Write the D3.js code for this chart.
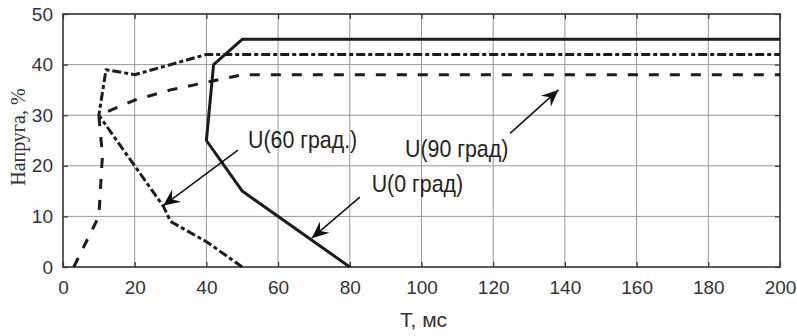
<!DOCTYPE html>
<html>
<head>
<meta charset="utf-8">
<script src="https://cdn.jsdelivr.net/npm/d3@7"></script>
<style>
  body { margin: 0; background: #fff; }
  svg { display: block; }
  .tick text { font-family: "Liberation Sans", Arial, sans-serif; font-size: 19px; fill: #333; }
</style>
</head>
<body>
<svg id="chart"></svg>
<script>
// curve data: time (ms) and load (%)
const t0 = [80, 50, 40, 42, 50, 200];
const u0 = [0, 15, 25, 40, 45, 45];

const t60 = [50, 40, 30, 28, 20, 10, 12, 20, 40, 200];
const u60 = [0, 5, 9, 12, 20, 30, 39, 38, 42, 42];

const t90 = [3, 10, 11, 10, 20, 30, 40, 50, 200];
const u90 = [0, 10, 22, 30, 33, 35, 36.5, 38, 38];

const xTicks = [0, 20, 40, 60, 80, 100, 120, 140, 160, 180, 200];
const yTicks = [0, 10, 20, 30, 40, 50];

// annotation labels + arrows (data units)
const labels = ["U(60 град.)", "U(90 град)", "U(0 град)"];
const labelX = [51.6, 95.4, 86.1];
const labelY = [23.5, 21.7, 14.9];
const arrowFrom = [[48.8, 23.1], [124.7, 26.4], [82.8, 13.8]];
const arrowTo = [[27.9, 12.1], [138.2, 35.0], [69.4, 5.7]];

const config = {
  width: 797,
  height: 336,
  margin: {top: 14, right: 17, bottom: 69, left: 63}
};

const w = config.width - config.margin.left - config.margin.right;
const h = config.height - config.margin.top - config.margin.bottom;

const svg = d3.select('#chart')
    .attr('width', config.width)
    .attr('height', config.height);

const chart = svg.append('g')
    .attr('transform', `translate(${config.margin.left},${config.margin.top})`);

const x = d3.scaleLinear().domain([0, 200]).range([0, w]);
const y = d3.scaleLinear().domain([0, 50]).range([h, 0]);

// grid
chart.append('g')
    .selectAll('line')
    .data(xTicks.slice(1, -1))
    .join('line')
    .attr('x1', d => x(d)).attr('x2', d => x(d))
    .attr('y1', 0).attr('y2', h)
    .attr('stroke', '#999').attr('stroke-width', 1);

chart.append('g')
    .selectAll('line')
    .data(yTicks.slice(1, -1))
    .join('line')
    .attr('y1', d => y(d)).attr('y2', d => y(d))
    .attr('x1', 0).attr('x2', w)
    .attr('stroke', '#999').attr('stroke-width', 1);

// axes (ticks inward)
const xAxisG = chart.append('g')
    .attr('transform', `translate(0,${h})`)
    .call(d3.axisBottom(x).tickValues(xTicks).tickSize(-5).tickPadding(14).tickSizeOuter(0));

const yAxisG = chart.append('g')
    .call(d3.axisLeft(y).tickValues(yTicks).tickSize(-5).tickPadding(10).tickSizeOuter(0));

chart.append('g')
    .attr('transform', `translate(${w},0)`)
    .call(d3.axisRight(y).tickValues(yTicks).tickSize(-5).tickFormat('').tickSizeOuter(0));

chart.append('g')
    .call(d3.axisTop(x).tickValues(xTicks).tickSize(-5).tickFormat('').tickSizeOuter(0));

chart.selectAll('.domain').remove();
chart.selectAll('.tick line').attr('stroke', '#333').attr('stroke-width', 1.2);

chart.append('rect')
    .attr('width', w).attr('height', h)
    .attr('fill', 'none')
    .attr('stroke', '#333')
    .attr('stroke-width', 1.6);

// curves
const line = d3.line().x(d => x(d[0])).y(d => y(d[1]));
const series = [
  {t: t0, u: u0, dash: null},
  {t: t60, u: u60, dash: '9,3,4,3'},
  {t: t90, u: u90, dash: '10,11'}
];

chart.selectAll('path.curve')
    .data(series)
    .join('path')
    .attr('class', 'curve')
    .attr('d', s => line(s.t.map((v, i) => [v, s.u[i]])))
    .attr('fill', 'none')
    .attr('stroke', '#1c1c1c')
    .attr('stroke-width', 3)
    .attr('stroke-linejoin', 'round')
    .attr('stroke-dasharray', s => s.dash);

// arrow marker
svg.append('defs').append('marker')
    .attr('id', 'head')
    .attr('markerUnits', 'userSpaceOnUse')
    .attr('viewBox', '-18 -9 20 18')
    .attr('refX', 0).attr('refY', 0)
    .attr('markerWidth', 20).attr('markerHeight', 18)
    .attr('orient', 'auto')
  .append('path')
    .attr('d', 'M0,0 L-17,-7.5 L-11,0 L-17,7.5 Z')
    .attr('fill', '#111');

chart.selectAll('line.arrow')
    .data(arrowFrom)
    .join('line')
    .attr('class', 'arrow')
    .attr('x1', d => x(d[0])).attr('y1', d => y(d[1]))
    .attr('x2', (d, i) => x(arrowTo[i][0])).attr('y2', (d, i) => y(arrowTo[i][1]))
    .attr('stroke', '#111')
    .attr('stroke-width', 1.5)
    .attr('marker-end', 'url(#head)');

chart.selectAll('text.label')
    .data(labels)
    .join('text')
    .attr('class', 'label')
    .attr('transform', (d, i) => `translate(${x(labelX[i])},${y(labelY[i])}) scale(0.89,1)`)
    .attr('font-family', '"Liberation Sans", Arial, sans-serif')
    .attr('font-size', '24px')
    .attr('fill', '#222')
    .text(d => d);

// axis titles
svg.append('text')
    .attr('x', 400)
    .attr('y', 327)
    .attr('font-family', '"Liberation Sans", Arial, sans-serif')
    .attr('font-size', '21px')
    .attr('fill', '#333')
    .text('T, мс');

svg.append('text')
    .attr('transform', 'translate(25,137) rotate(-90)')
    .attr('text-anchor', 'middle')
    .attr('font-family', '"Liberation Serif", "Times New Roman", serif')
    .attr('font-size', '20px')
    .attr('fill', '#333')
    .text('Напруга, %');
</script>
</body>
</html>
